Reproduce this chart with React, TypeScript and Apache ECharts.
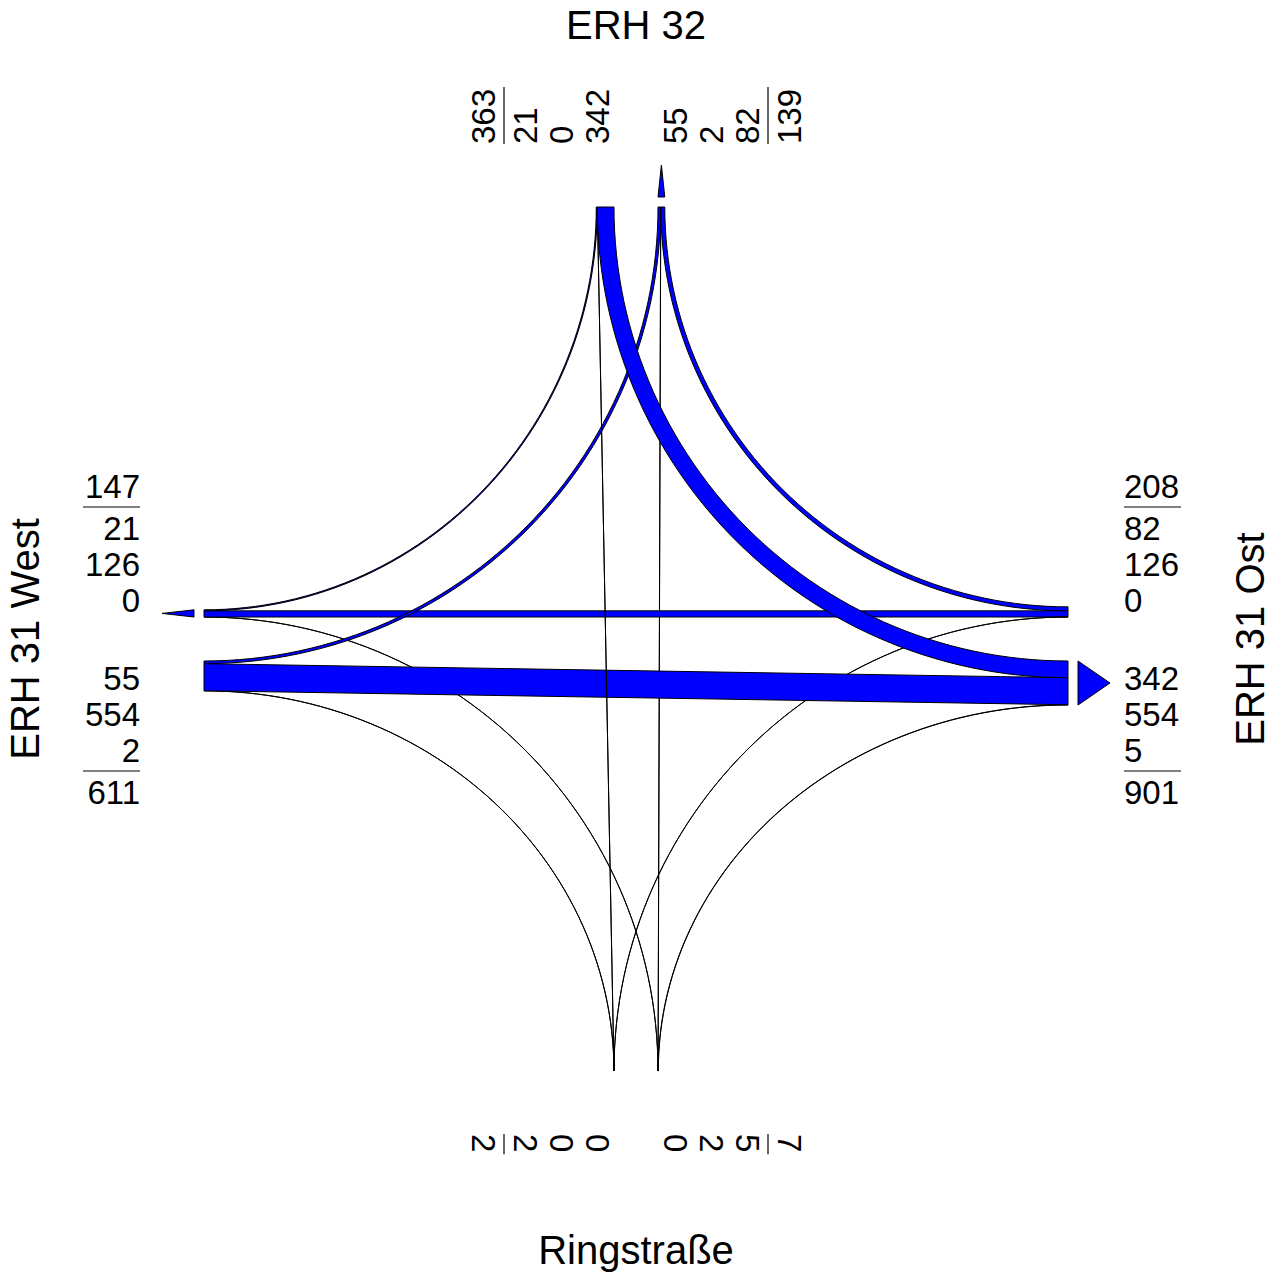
import React, { useEffect, useRef } from "react";
import * as echarts from "echarts";

// Arms of the junction, clockwise from the north
const armNames = ["ERH 32", "ERH 31 Ost", "Ringstraße", "ERH 31 West"];

// Vehicles entering from each arm: [right turn, straight on, left turn]
const fromNorth = [21, 0, 342];
const fromEast = [82, 126, 0];
const fromSouth = [5, 2, 0];
const fromWest = [2, 554, 55];
const entering = [fromNorth, fromEast, fromSouth, fromWest];

// Layout constants (data units = screen px, y pointing down)
const ARM = 432; // centre to end of the lanes
const GAP = 22; // half gap between the two directions of an arm
const PX_PER_VEH = 44 / 901;
const LABEL_DIST = [495, 488, 495, 496];
const NAME_DIST = [614, 614, 611, 611];
const ROW0 = 39;
const ROW_STEP = 36;
const SEP_POS = 132;
const TOTAL_POS = 153;
const NUM_FONT = 33;
const NAME_FONT = 40;
const FONT = "Liberation Sans, Arial, Helvetica, sans-serif";
const BLUE = "#0000ff";

const RIGHT = 0;
const STRAIGHT = 1;
const LEFT = 2;
const INNER_TO_OUTER = [LEFT, STRAIGHT, RIGHT];

// outward unit vector of every arm and the side of its inbound lanes
const U = [
  [0, -1],
  [1, 0],
  [0, 1],
  [-1, 0],
];
const P = U.map(([x, y]) => [y, -x]);

const target = (a: number, t: number) => (a + [3, 2, 1][t]) % 4;
const source = (b: number, t: number) => (b + [1, 2, 3][t]) % 4;

// lane offsets of every movement at its entry and exit arm
const inOff: number[][][] = [[], [], [], []];
const outOff: number[][][] = [[], [], [], []];
for (let a = 0; a < 4; a++) {
  let o = GAP;
  for (const t of INNER_TO_OUTER) {
    const w = entering[a][t] * PX_PER_VEH;
    inOff[a][t] = [o, o + w];
    o += w;
  }
}
for (let b = 0; b < 4; b++) {
  let q = GAP;
  for (const t of INNER_TO_OUTER) {
    const a = source(b, t);
    const w = entering[a][t] * PX_PER_VEH;
    outOff[a][t] = [q, q + w];
    q += w;
  }
}

const drawOrder = [2, 1, 3, 0];
const flowData: number[][] = [];
for (const a of drawOrder) {
  for (const t of [RIGHT, STRAIGHT, LEFT]) {
    flowData.push([a, t, entering[a][t]]);
  }
}

const outTotal = (b: number) =>
  INNER_TO_OUTER.reduce((s, t) => s + entering[source(b, t)][t], 0);
const inTotal = (a: number) => entering[a].reduce((s, v) => s + v, 0);

const armData = [0, 1, 2, 3].map((a) => [a, 0, inTotal(a), outTotal(a)]);

function flowItem(params: any, api: any) {
  const a = api.value(0);
  const t = api.value(1);
  const b = target(a, t);
  const [o1, o2] = inOff[a][t];
  const [q1, q2] = outOff[a][t];
  const edge = (o: number, q: number) => {
    const A = [U[a][0] * ARM + P[a][0] * o, U[a][1] * ARM + P[a][1] * o];
    const B = [U[b][0] * ARM - P[b][0] * q, U[b][1] * ARM - P[b][1] * q];
    if (t === STRAIGHT) return [A, B];
    const C = [(U[a][0] + U[b][0]) * ARM, (U[a][1] + U[b][1]) * ARM];
    const pts: number[][] = [];
    const n = 60;
    for (let i = 0; i <= n; i++) {
      const th = (i / n) * (Math.PI / 2);
      const c = Math.cos(th);
      const s = Math.sin(th);
      pts.push([
        C[0] + (A[0] - C[0]) * c + (B[0] - C[0]) * s,
        C[1] + (A[1] - C[1]) * c + (B[1] - C[1]) * s,
      ]);
    }
    return pts;
  };
  const pts = [...edge(o1, q1), ...edge(o2, q2).reverse()].map((p) =>
    api.coord(p)
  );
  return {
    type: "polygon",
    shape: { points: pts },
    style: { fill: BLUE, stroke: "#000", lineWidth: 1 },
  };
}

function arrowItem(params: any, api: any) {
  const b = api.value(0);
  const total = api.value(3);
  const w = total * PX_PER_VEH;
  if (w < 1) return { type: "group", children: [] };
  const at = (along: number, perp: number) =>
    api.coord([U[b][0] * along - P[b][0] * perp, U[b][1] * along - P[b][1] * perp]);
  return {
    type: "polygon",
    shape: {
      points: [at(ARM + 10, GAP), at(ARM + 10, GAP + w), at(ARM + 42, GAP + w / 2)],
    },
    style: { fill: BLUE, stroke: "#000", lineWidth: 1 },
  };
}

function labelItem(params: any, api: any) {
  const a = api.value(0);
  const d = LABEL_DIST[a];
  const at = (along: number, perp: number) =>
    api.coord([U[a][0] * along + P[a][0] * perp, U[a][1] * along + P[a][1] * perp]);
  const rotation = [Math.PI / 2, 0, -Math.PI / 2, 0][a];
  const align = a === 3 ? "right" : "left";
  const children: any[] = [];
  const text = (s: string, p: number[]) => {
    children.push({
      type: "text",
      x: p[0],
      y: p[1],
      rotation,
      style: {
        text: s,
        fill: "#000",
        fontSize: NUM_FONT,
        fontFamily: FONT,
        align,
        verticalAlign: "middle",
      },
    });
  };
  const inVals = INNER_TO_OUTER.map((t) => entering[a][t]);
  const outVals = INNER_TO_OUTER.map((t) => entering[source(a, t)][t]);
  const groups = [
    { sign: 1, vals: inVals, total: api.value(2) },
    { sign: -1, vals: outVals, total: api.value(3) },
  ];
  for (const g of groups) {
    g.vals.forEach((v, k) => text(String(v), at(d, g.sign * (ROW0 + ROW_STEP * k))));
    text(String(g.total), at(d, g.sign * TOTAL_POS));
    const chars = Math.max(...[...g.vals, g.total].map((v) => String(v).length));
    const len = chars * 0.556 * NUM_FONT + 2;
    const p1 = at(d, g.sign * SEP_POS);
    const p2 = at(d + len, g.sign * SEP_POS);
    children.push({
      type: "line",
      shape: { x1: p1[0], y1: p1[1], x2: p2[0], y2: p2[1] },
      style: { stroke: "#000", lineWidth: 1.2 },
    });
  }
  const np = api.coord([U[a][0] * NAME_DIST[a], U[a][1] * NAME_DIST[a]]);
  children.push({
    type: "text",
    x: np[0],
    y: np[1],
    rotation: a % 2 === 1 ? Math.PI / 2 : 0,
    style: {
      text: armNames[a],
      fill: "#000",
      fontSize: NAME_FONT,
      fontFamily: FONT,
      align: "center",
      verticalAlign: "middle",
    },
  });
  return { type: "group", children };
}

export default function App() {
  const ref = useRef<HTMLDivElement>(null);
  useEffect(() => {
    document.body.style.margin = "0";
    if (!ref.current) return;
    const chart = echarts.init(ref.current, undefined, { renderer: "svg" });
    chart.setOption({
      animation: false,
      backgroundColor: "#ffffff",
      grid: { left: 0, right: 0, top: 0, bottom: 0 },
      xAxis: { type: "value", min: -636, max: 643, show: false },
      yAxis: { type: "value", min: -639, max: 635, inverse: true, show: false },
      series: [
        {
          type: "custom",
          name: "flows",
          silent: true,
          renderItem: flowItem,
          data: flowData,
          encode: { x: 0, y: 1 },
        },
        {
          type: "custom",
          name: "arrows",
          silent: true,
          renderItem: arrowItem,
          data: armData,
          encode: { x: 0, y: 1 },
        },
        {
          type: "custom",
          name: "labels",
          silent: true,
          renderItem: labelItem,
          data: armData,
          encode: { x: 0, y: 1 },
        },
      ],
    });
    return () => chart.dispose();
  }, []);
  return <div ref={ref} style={{ width: 1279, height: 1274 }} />;
}
